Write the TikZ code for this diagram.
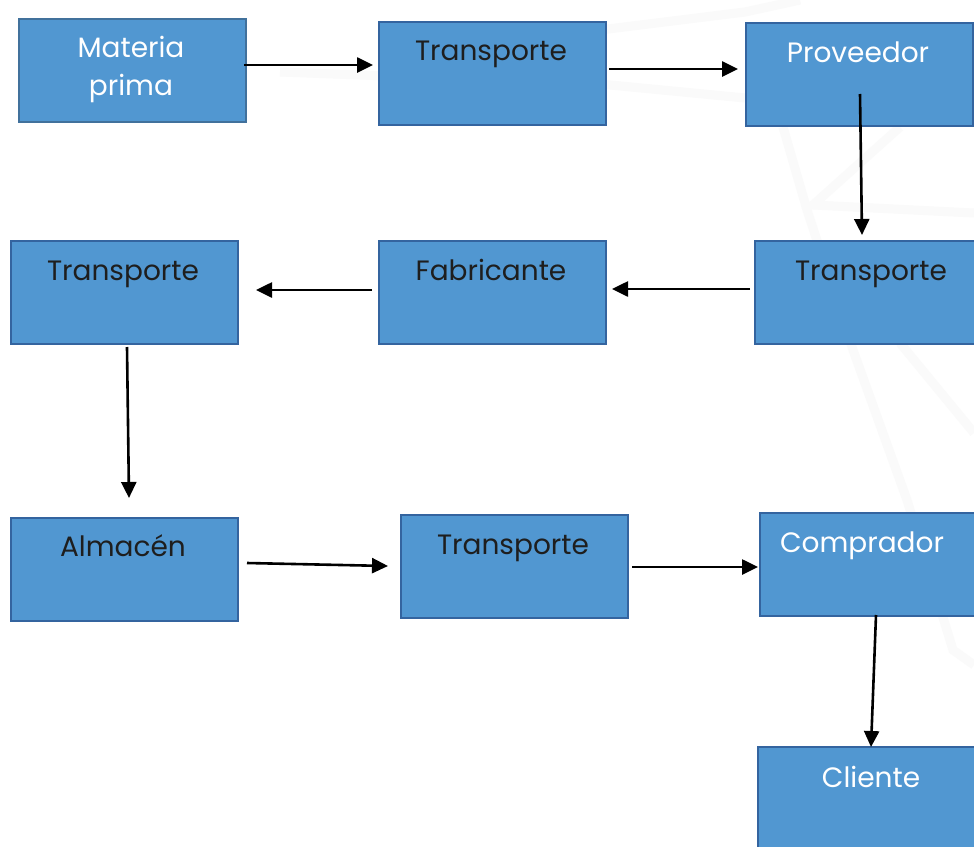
\documentclass[tikz,border=0pt]{standalone}
\usepackage{fontspec}
\setmainfont{Poppins}
\usetikzlibrary{arrows.meta}
\definecolor{boxfill}{HTML}{5197D1}
\definecolor{boxline}{HTML}{34649F}
\definecolor{mpline}{HTML}{41719C}
\definecolor{darktext}{HTML}{1E1E1E}
\definecolor{faint}{HTML}{FAFAFA}
\tikzset{
  flowbox/.style={draw=boxline, line width=2pt, fill=boxfill, minimum width=227pt, minimum height=103pt, inner sep=0pt, anchor=north west},
  lighttxt/.style={text=white, font=\fontsize{28}{38}\selectfont, anchor=base, inner sep=0pt, align=center},
  darktxt/.style={text=darktext, font=\fontsize{28}{38}\selectfont, anchor=base, inner sep=0pt},
  flow/.style={-{Triangle[length=16pt,width=15pt]}, line width=2.6pt, black},
  bgline/.style={faint, line width=9pt}
}
\begin{document}
\begin{tikzpicture}[x=1pt,y=-1pt]
\useasboundingbox (0,0) rectangle (974,846);
\clip (0,0) rectangle (974,846);
\fill[white] (0,0) rectangle (974,846);
% faint background
\draw[bgline] (280,72) -- (600,84) -- (745,98);
\draw[bgline] (600,30) -- (745,12) -- (800,0);
\draw[bgline] (783,127) -- (807,210) -- (853,350) -- (907,500) -- (953,650) -- (974,665);
\draw[bgline] (900,127) -- (813,205) -- (974,213);
\draw[bgline] (900,343) -- (974,433);
% boxes
\node[flowbox, draw=mpline] (mp) at (18,18) {};
\node[flowbox] (t1) at (378,21) {};
\node[flowbox] (pv) at (745,22) {};
\node[flowbox] (t2) at (754,240) {};
\node[flowbox] (fb) at (378,240) {};
\node[flowbox] (t3) at (10,240) {};
\node[flowbox] (al) at (10,517) {};
\node[flowbox] (t4) at (400,514) {};
\node[flowbox] (cp) at (759,512) {};
\node[flowbox] (cl) at (757,746) {};
% texts
\node[lighttxt] (mptxt) at (131,95) {Materia\\prima};
\node[darktxt] (t1txt) at (491,60) {Transporte};
\node[lighttxt] (pvtxt) at (858,62) {Proveedor};
\node[darktxt] (t2txt) at (871,280) {Transporte};
\node[darktxt] (fbtxt) at (491,280) {Fabricante};
\node[darktxt] (t3txt) at (123,280) {Transporte};
\node[darktxt] (altxt) at (123,556) {Almacén};
\node[darktxt] (t4txt) at (513,554) {Transporte};
\node[lighttxt] (cptxt) at (862,552) {Comprador};
\node[lighttxt] (cltxt) at (871,787) {Cliente};
% connector end points
\coordinate (a1s) at (244,65);   \coordinate (a1e) at (373,65);
\coordinate (a2s) at (609,69);   \coordinate (a2e) at (738,69);
\coordinate (a3s) at (860,94);   \coordinate (a3e) at (862,235);
\coordinate (a4s) at (750,289);  \coordinate (a4e) at (612,289);
\coordinate (a5s) at (372,290);  \coordinate (a5e) at (256,290);
\coordinate (a6s) at (127,347);  \coordinate (a6e) at (129,498);
\coordinate (a7s) at (247,563);  \coordinate (a7e) at (388,566);
\coordinate (a8s) at (632,567);  \coordinate (a8e) at (758,567);
\coordinate (a9s) at (876,615);  \coordinate (a9e) at (871,747);
\draw[flow] (a1s) -- (a1e);
\draw[flow] (a2s) -- (a2e);
\draw[flow] (a3s) -- (a3e);
\draw[flow] (a4s) -- (a4e);
\draw[flow] (a5s) -- (a5e);
\draw[flow] (a6s) -- (a6e);
\draw[flow] (a7s) -- (a7e);
\draw[flow] (a8s) -- (a8e);
\draw[flow] (a9s) -- (a9e);
\end{tikzpicture}
\end{document}
